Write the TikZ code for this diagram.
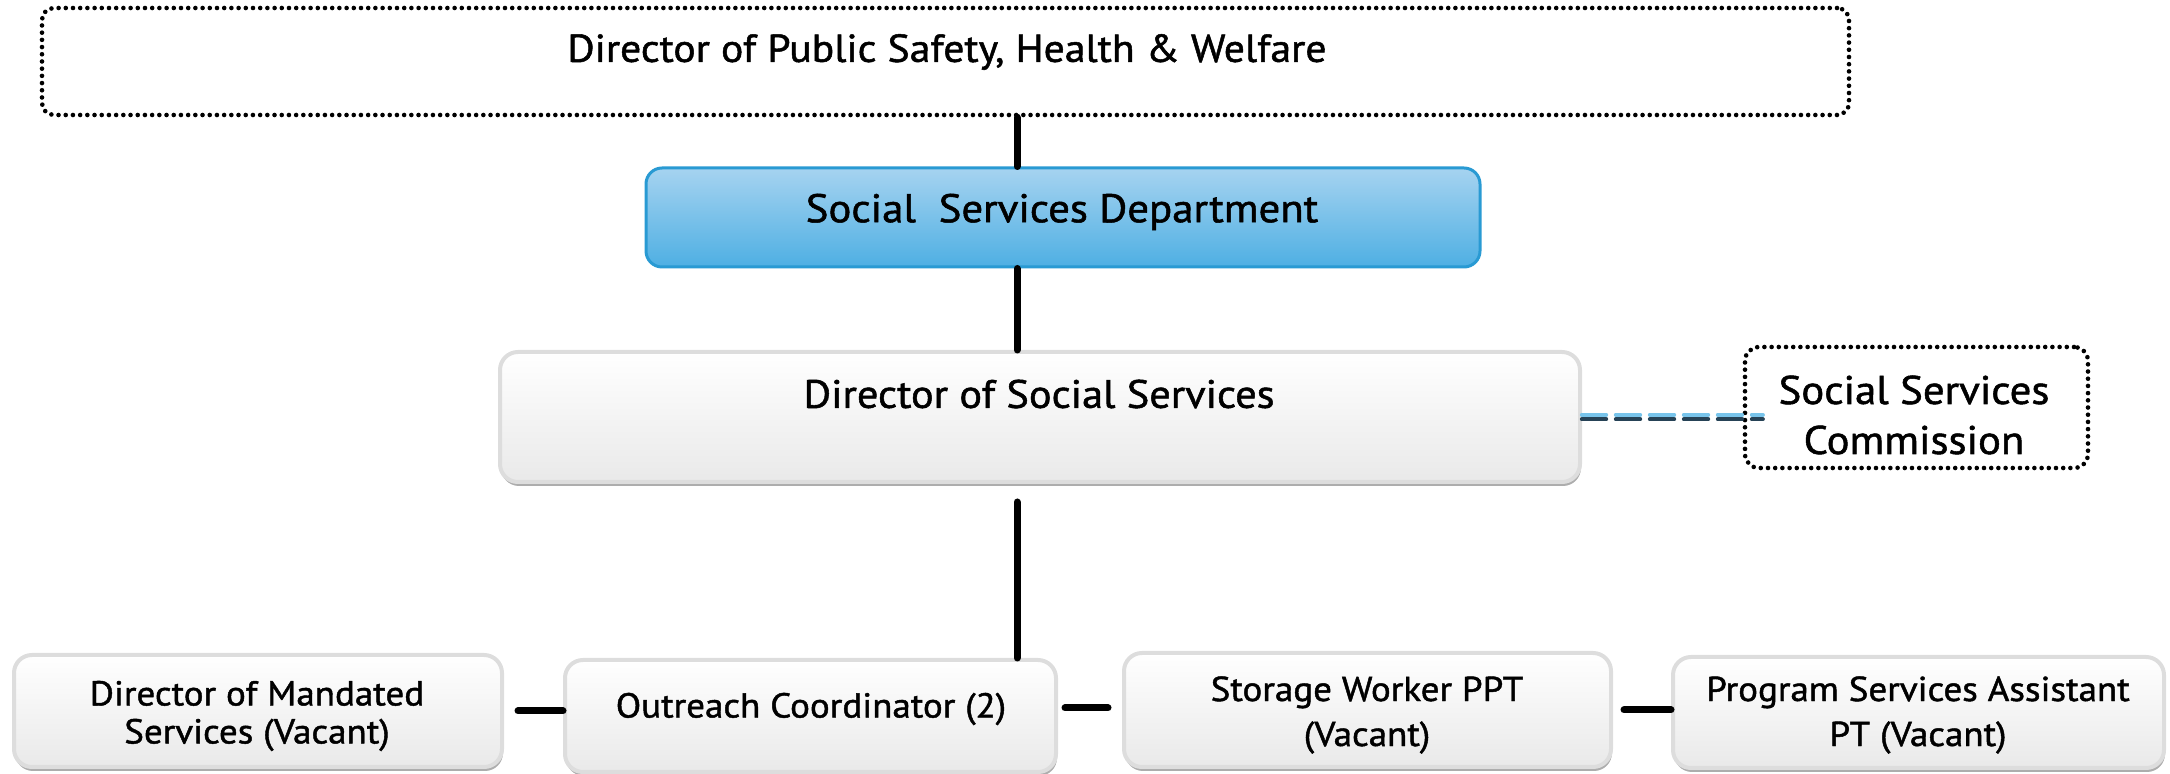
\documentclass[tikz,border=0pt]{standalone}
\usepackage{fontspec}
\setmainfont{PT Sans}[FakeStretch=1.07, FakeBold=1.3]
\usetikzlibrary{positioning, shadows}

\definecolor{boxrim}{RGB}{221,221,221}
\definecolor{boxlow}{RGB}{233,233,233}
\definecolor{deptop}{RGB}{166,211,240}
\definecolor{deplow}{RGB}{78,175,227}
\definecolor{depline}{RGB}{41,154,211}
\definecolor{dashdark}{RGB}{38,66,86}
\definecolor{dashlight}{RGB}{120,196,235}

\begin{document}
\begin{tikzpicture}[x=0.5pt, y=-0.5pt, line cap=round,
    graybox/.style={rectangle, rounded corners=9pt, draw=boxrim, line width=2pt,
        top color=white, bottom color=boxlow,
        drop shadow={shadow xshift=0.5pt, shadow yshift=-2pt, fill=black!40, opacity=0.8}},
    bluebox/.style={rectangle, rounded corners=8pt, draw=depline, line width=1.5pt,
        top color=deptop, bottom color=deplow},
    dotbox/.style={rectangle, rounded corners=6pt, draw=black, line width=2.3pt,
        dash pattern=on 0pt off 3.6pt},
    bigtext/.style={font=\fontsize{20}{24}\selectfont, inner sep=0pt},
    midtext/.style={font=\fontsize{20}{25}\selectfont, align=center, inner sep=0pt},
    smalltext/.style={font=\fontsize{17.3}{18}\selectfont, align=center, inner sep=0pt},
    link/.style={line width=3.5pt}
  ]
  \useasboundingbox (0,0) rectangle (2170,774);

  % boxes
  \node[dotbox, minimum width=903.5pt, minimum height=53.5pt] (psh) at (945.5,61.5) {};
  \node[bluebox, minimum width=417pt, minimum height=49.5pt] (ssd) at (1063,217.5) {};
  \node[graybox, minimum width=540pt, minimum height=65pt] (dss) at (1040,417) {};
  \node[dotbox, rounded corners=7pt, minimum width=171.5pt, minimum height=60.5pt] (ssc) at (1916.5,407.5) {};
  \node[graybox, minimum width=244pt, minimum height=56pt] (mand) at (258,711) {};
  \node[graybox, minimum width=245.5pt, minimum height=56pt] (outr) at (810.5,716) {};
  \node[graybox, minimum width=243.5pt, minimum height=57pt] (stor) at (1367.5,710) {};
  \node[graybox, minimum width=245.5pt, minimum height=55.5pt] (prog) at (1918.5,712.5) {};

  % texts
  \node[bigtext, font=\fontsize{19.5}{24}\selectfont] (pshtext) at (947,52) {Director of Public Safety, Health \& Welfare};
  \node[bigtext] (ssdtext) at (1062,212) {Social\ \ Services Department};
  \node[bigtext, font=\fontsize{19.8}{24}\selectfont] (dsstext) at (1039,394) {Director of Social Services};
  \node[midtext] (ssctext) at (1914,415) {Social Services\\Commission};
  \node[smalltext, font=\fontsize{17.3}{19}\selectfont] (mandtext) at (257,716) {Director of Mandated\\Services (Vacant)};
  \node[smalltext] (outrtext) at (811,709) {Outreach Coordinator (2)};
  \node[smalltext, font=\fontsize{17.3}{22.5}\selectfont] (stortext) at (1367,715) {Storage Worker PPT\\(Vacant)};
  \node[smalltext, font=\fontsize{17.3}{22.5}\selectfont] (progtext) at (1918,715) {Program Services Assistant\\PT (Vacant)};

  % links
  \coordinate (spine) at (1017,0);
  \draw[link] (psh.south -| spine) -- (ssd.north -| spine);
  \draw[link] (ssd.south -| spine) -- (dss.north -| spine);
  \draw[link, shorten <=9pt] (dss.south -| spine) -- (outr.north -| spine);
  \draw[link, shorten <=7pt] (mand.east) -- (mand.east -| outr.west);
  \draw[link, shorten <=3.5pt, shorten >=7pt] ([yshift=4pt]outr.east) -- ([yshift=4pt]outr.east -| stor.west);
  \draw[link, shorten <=5.5pt] (stor.east) -- (stor.east -| prog.west);
  \draw[dashlight, line width=2.2pt, dash pattern=on 12pt off 5pt, shorten >=-10pt]
    ([yshift=1.1pt]dss.east) -- ([yshift=1.1pt]dss.east -| ssc.west);
  \draw[dashdark, line width=2.2pt, dash pattern=on 12pt off 5pt, shorten >=-10pt]
    ([yshift=-1.1pt]dss.east) -- ([yshift=-1.1pt]dss.east -| ssc.west);
\end{tikzpicture}
\end{document}
